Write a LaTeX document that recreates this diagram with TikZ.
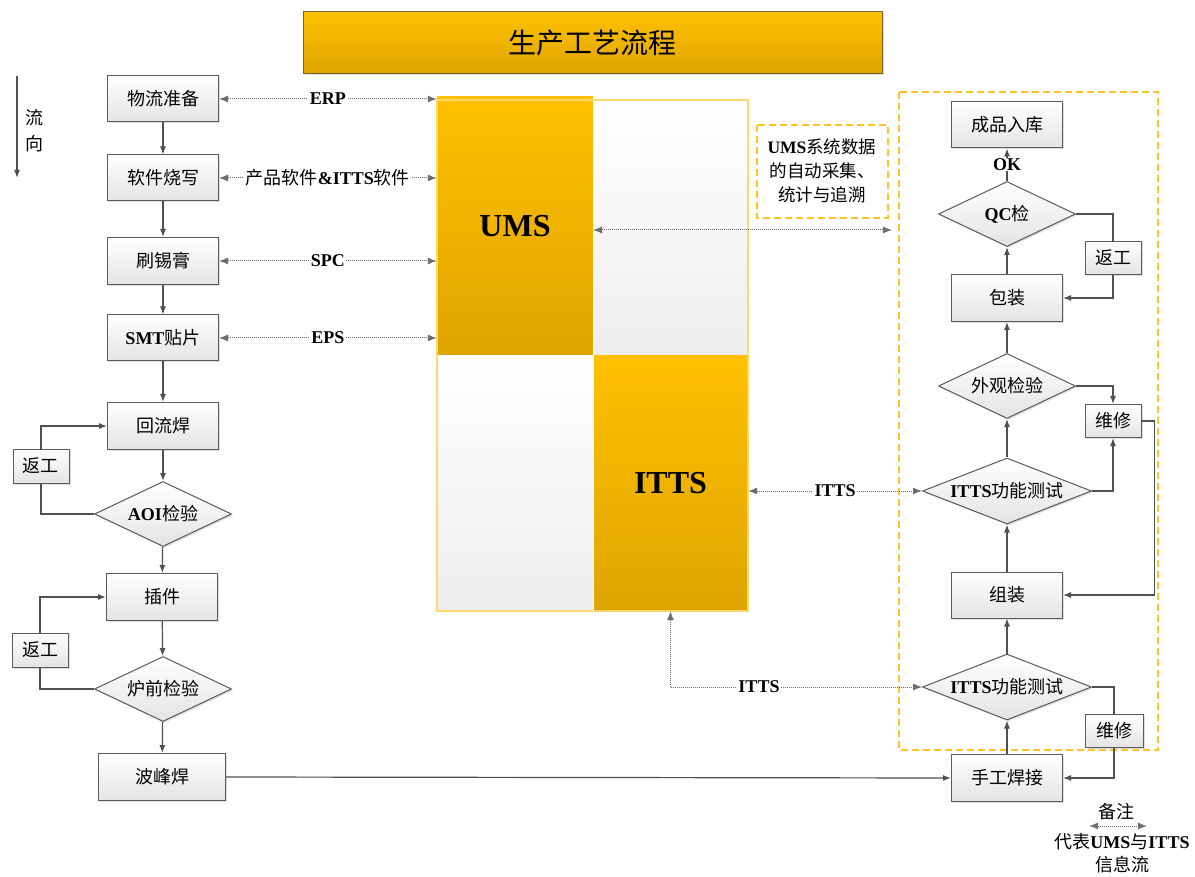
\documentclass[tikz,border=0pt]{standalone}
\usepackage{fontspec}
\setmainfont{Noto Sans CJK SC}
\newfontfamily\latfam{Liberation Serif}
\newcommand\latb[1]{{\latfam\bfseries #1}}
\usetikzlibrary{shapes.geometric,arrows.meta,shadows}
\definecolor{goldtop}{RGB}{255,192,0}
\definecolor{goldbot}{RGB}{222,165,0}
\definecolor{boxbot}{RGB}{228,228,228}
\definecolor{boxline}{RGB}{90,90,90}
\definecolor{arrcol}{RGB}{80,80,80}
\definecolor{dotcol}{RGB}{110,110,110}
\definecolor{ydash}{RGB}{255,196,40}
\definecolor{frameline}{RGB}{255,215,110}
\begin{document}
\begin{tikzpicture}[x=1pt,y=-1pt,
  box/.style={draw=boxline, line width=1pt, top color=white, bottom color=boxbot,
    minimum width=111pt, minimum height=46pt, inner sep=0pt,
    drop shadow={shadow xshift=1.5pt, shadow yshift=-1.5pt, fill=black!25},
    font=\fontsize{18}{18}\selectfont},
  smallbox/.style={box, minimum width=56pt, minimum height=33pt},
  dia/.style={diamond, draw=boxline, line width=1pt, top color=white, bottom color=boxbot,
    minimum width=137pt, minimum height=65pt, inner sep=0pt,
    drop shadow={shadow xshift=1.5pt, shadow yshift=-1.5pt, fill=black!25}},
  dtext/.style={font=\fontsize{18}{18}\selectfont, inner sep=0pt},
  gold/.style={top color=goldtop, bottom color=goldbot, draw=none, inner sep=0pt},
  pale/.style={top color=white, bottom color=black!7, draw=none, inner sep=0pt},
  arr/.style={draw=arrcol, line width=1.2pt, -{Latex[length=8pt,width=6pt]}},
  ln/.style={draw=arrcol, line width=1.2pt},
  dotl/.style={draw=dotcol, line width=1pt, dash pattern=on 1pt off 1pt,
    {Latex[length=9pt,width=7pt]}-{Latex[length=9pt,width=7pt]}},
  lab/.style={fill=white, inner sep=1.5pt, font=\fontsize{18}{18}\selectfont},
  ydashed/.style={draw=ydash, line width=1.5pt, dash pattern=on 7pt off 4pt}
]
\useasboundingbox (0,0) rectangle (1195,877);
\fill[white] (0,0) rectangle (1195,877);

% title
\node[gold, draw={rgb,255:red,120;green,100;blue,40}, line width=1pt,
  minimum width=579pt, minimum height=62pt,
  drop shadow={shadow xshift=1.5pt, shadow yshift=-1.5pt, fill=black!25},
  font=\fontsize{28}{28}\selectfont] (title) at (592.5,43) {生产工艺流程};

% flow direction
\coordinate (fd1) at (17,76);
\coordinate (fd2) at (17,178);
\draw[arr] (fd1) -- (fd2);
\node[align=center, font=\fontsize{18}{26}\selectfont, inner sep=0pt] (fdtext) at (34,131) {流\\向};

% central block
\node[gold, minimum width=156pt, minimum height=259pt, font=\fontsize{32}{32}\selectfont] (ums) at (515,226.5) {\latb{UMS}};
\node[pale, minimum width=155pt, minimum height=256pt] (ur) at (670.5,228) {};
\node[pale, minimum width=156pt, minimum height=255pt] (ll) at (515,483.5) {};
\node[gold, minimum width=155pt, minimum height=255pt, font=\fontsize{32}{32}\selectfont] (itts) at (670.5,483.5) {\latb{ITTS}};
\draw[frameline, line width=1.5pt] (437,100) rectangle (748,611);
\draw[white, line width=1pt] (593,100) -- (593,611);

% left column
\node[box] (a1) at (163,99) {物流准备};
\node[box] (a2) at (163,178) {软件烧写};
\node[box, minimum height=47pt] (a3) at (163,261) {刷锡膏};
\node[box] (a4) at (163,338) {\latb{SMT}贴片};
\node[box, minimum height=47pt] (a5) at (163,426) {回流焊};
\node[dia] (d1) at (163,514) {};
\node[dtext] (d1t) at (d1.center) {\latb{AOI}检验};
\node[box, minimum height=47pt] (a6) at (162,597) {插件};
\node[dia] (d2) at (163,689) {};
\node[dtext] (d2t) at (d2.center) {炉前检验};
\node[box, minimum width=127pt, minimum height=47pt] (a7) at (162,777) {波峰焊};
\node[smallbox, minimum height=34pt] (r1) at (41,466) {返工};
\node[smallbox, minimum height=34pt] (r2) at (40,650) {返工};

\draw[arr] (a1) -- (a2);
\draw[arr] (a2) -- (a3);
\draw[arr] (a3) -- (a4);
\draw[arr] (a4) -- (a5);
\draw[arr] (a5) -- (d1);
\draw[arr] (d1) -- (a6);
\draw[arr] (a6) -- (d2);
\draw[arr] (d2) -- (a7);
\draw[arr] (r1.north) |- (a5.west);
\draw[ln] (d1.west) -| (r1.south);
\draw[arr] (r2.north) |- (a6.west);
\draw[ln] (d2.west) -| (r2.south);

% left info flows
\draw[dotl] (a1.east) -- node[lab] (l1) {\latb{ERP}} (a1.east -| ums.west);
\draw[dotl] (a2.east) -- node[lab] (l2) {产品软件\latb{\&ITTS}软件} (a2.east -| ums.west);
\draw[dotl] (a3.east) -- node[lab] (l3) {\latb{SPC}} (a3.east -| ums.west);
\draw[dotl] (a4.east) -- node[lab] (l4) {\latb{EPS}} (a4.east -| ums.west);

% note and UMS flow
\draw[ydashed] (757,125) rectangle (888,218);
\node[align=center, font=\fontsize{17.5}{24}\selectfont, inner sep=0pt] (note) at (822,171)
  {\latb{UMS}系统数据\\的自动采集、\\统计与追溯};
\coordinate (umsR) at (593,230);
\coordinate (noteR) at (892,230);
\draw[dotl] (umsR) -- (noteR);

% big dashed box
\draw[ydashed] (899,92) rectangle (1158,750);

% right column
\node[box] (b1) at (1007,125) {成品入库};
\node[dia] (q1) at (1007,214) {};
\node[dtext] (q1t) at (q1.center) {\latb{QC}检};
\node[smallbox] (rr1) at (1113,258) {返工};
\node[box, minimum height=47pt] (b2) at (1007,298) {包装};
\node[dia] (q2) at (1007,386) {};
\node[dtext] (q2t) at (q2.center) {外观检验};
\node[smallbox] (w1) at (1113,421) {维修};
\node[dia, minimum width=169pt, minimum height=66pt] (q3) at (1007,491) {};
\node[dtext] (q3t) at (q3.center) {\latb{ITTS}功能测试};
\node[box] (b3) at (1007,595) {组装};
\node[dia, minimum width=169pt, minimum height=66pt] (q4) at (1007,687) {};
\node[dtext] (q4t) at (q4.center) {\latb{ITTS}功能测试};
\node[smallbox, minimum width=58pt] (w2) at (1114,731) {维修};
\node[box, minimum height=47pt] (b4) at (1007,778) {手工焊接};

\draw[arr] (q1) -- node[lab, fill=white, inner sep=0.5pt] (ok) {\latb{OK}} (b1);
\draw[arr] (b2) -- (q1);
\draw[ln] (q1.east) -| (rr1.north);
\draw[arr] (rr1.south) |- (b2.east);
\draw[arr] (q2) -- (b2);
\draw[arr] (q2.east) -| (w1.north);
\draw[arr] (q3) -- (q2);
\draw[arr] (q3.east) -| (w1.south);
\draw[arr] (w1.east) -- ++(13,0) |- (b3.east);
\draw[arr] (b3) -- (q3);
\draw[arr] (q4) -- (b3);
\draw[ln] (q4.east) -| (w2.north);
\draw[arr] (w2.south) |- (b4.east);
\draw[arr] (b4) -- (q4);
\draw[arr] (a7.east) -- (b4.west);

% ITTS info flows
\draw[dotl] (q3.west -| itts.east) -- node[lab] (l5) {\latb{ITTS}} (q3.west);
\draw[dotl] (itts.south) |- (q4.west);
\node[lab] (l6) at (759,687) {\latb{ITTS}};

% legend
\node[font=\fontsize{18}{18}\selectfont, inner sep=0pt] (lgt) at (1116,812) {备注};
\coordinate (lg1) at (1089,826);
\coordinate (lg2) at (1147,826);
\draw[dotl] (lg1) -- (lg2);
\node[align=center, font=\fontsize{18}{23}\selectfont, inner sep=0pt] (lgb) at (1122,853)
  {代表\latb{UMS}与\latb{ITTS}\\信息流};
\end{tikzpicture}
\end{document}
